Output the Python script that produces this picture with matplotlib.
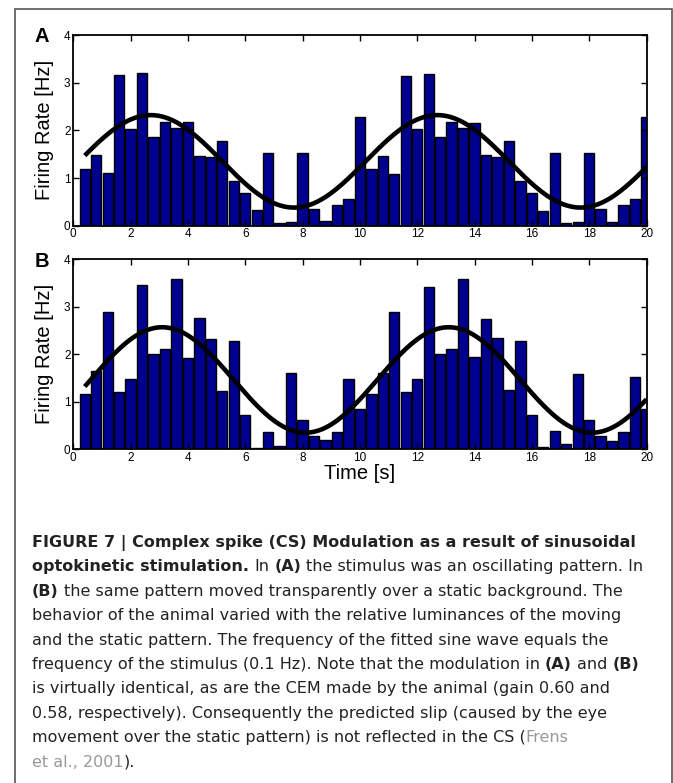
import numpy as np
import matplotlib
matplotlib.use("Agg")
import matplotlib.pyplot as plt
from matplotlib.patches import Rectangle

plt.rcParams['font.family'] = ['Liberation Sans', 'DejaVu Sans']

# bin centres (0.4 s bins) and firing rates
bins = np.arange(1, 51) * 0.4

rate_a = [1.19, 1.48, 1.11, 3.17, 2.03, 3.20, 1.87, 2.17, 2.05, 2.17,
          1.47, 1.45, 1.78, 0.93, 0.68, 0.32, 1.52, 0.05, 0.07, 1.53,
          0.36, 0.09, 0.43, 0.55, 2.27,
          1.19, 1.47, 1.09, 3.15, 2.03, 3.18, 1.87, 2.18, 2.04, 2.16,
          1.48, 1.45, 1.78, 0.93, 0.69, 0.30, 1.53, 0.06, 0.07, 1.53,
          0.36, 0.08, 0.43, 0.57, 2.27]

rate_b = [1.16, 1.64, 2.90, 1.21, 1.47, 3.45, 2.00, 2.12, 3.59, 1.93,
          2.77, 2.33, 1.23, 2.27, 0.72, 0.02, 0.37, 0.08, 1.60, 0.62,
          0.28, 0.19, 0.37, 1.47, 0.84,
          1.16, 1.60, 2.90, 1.21, 1.47, 3.42, 2.00, 2.12, 3.59, 1.94,
          2.75, 2.34, 1.24, 2.29, 0.72, 0.04, 0.39, 0.12, 1.59, 0.62,
          0.29, 0.18, 0.36, 1.52, 0.85]

# fitted sine (0.1 Hz): mean, amplitude, phase shift [s]
fit_a = (1.35, 0.97, 0.2)
fit_b = (1.46, 1.11, 0.6)
period = 10.0

W, H = 673, 783
fig = plt.figure(figsize=(W / 100, H / 100), dpi=100)

# outer frame
fig.patches.append(Rectangle((15 / W, -0.01), 657 / W, 1 - 9 / H + 0.01,
                             transform=fig.transFigure, fill=False,
                             edgecolor='#555555', linewidth=1.2))

tfit = np.linspace(0.4, 20, 300)


def panel(rect, rate, fit, letter, xlabel=None):
    ax = fig.add_axes(rect)
    ax.bar(bins, rate, width=0.36, color='#000090', edgecolor='black',
           linewidth=1.0, clip_on=True)
    m, a, p = fit
    ax.plot(tfit, m + a * np.sin(2 * np.pi * (tfit - p) / period),
            color='black', linewidth=3.3, solid_capstyle='butt')
    ax.set_xlim(0, 20)
    ax.set_ylim(0, 4)
    ax.set_xticks(range(0, 21, 2))
    ax.set_yticks(range(0, 5))
    ax.tick_params(direction='in', top=True, right=True, length=4,
                   width=1.0, labelsize=8.5, pad=2)
    for s in ax.spines.values():
        s.set_linewidth(1.3)
    ax.set_ylabel('Firing Rate [Hz]', fontsize=14.5, labelpad=7)
    if xlabel:
        ax.set_xlabel(xlabel, fontsize=14.5, labelpad=0)
    fig.text(42 / W, rect[1] + rect[3] - 2 / H, letter, fontsize=14.5,
             fontweight='bold', ha='center', va='center')
    return ax


panel([73.3 / W, 1 - 225.7 / H, 573.2 / W, 190.7 / H], rate_a, fit_a, 'A')
panel([73.3 / W, 1 - 449.3 / H, 573.2 / W, 190 / H], rate_b, fit_b, 'B',
      xlabel='Time [s]')

# caption, drawn run by run so bold and grey parts sit inline
N, Bd, G = 'normal', 'bold', 'grey'
caption = [
    [("FIGURE 7 | Complex spike (CS) Modulation as a result of sinusoidal", Bd)],
    [("optokinetic stimulation.", Bd), (" In ", N), ("(A)", Bd),
     (" the stimulus was an oscillating pattern. In", N)],
    [("(B)", Bd), (" the same pattern moved transparently over a static background. The", N)],
    [("behavior of the animal varied with the relative luminances of the moving", N)],
    [("and the static pattern. The frequency of the fitted sine wave equals the", N)],
    [("frequency of the stimulus (0.1 Hz). Note that the modulation in ", N),
     ("(A)", Bd), (" and ", N), ("(B)", Bd)],
    [("is virtually identical, as are the CEM made by the animal (gain 0.60 and", N)],
    [("0.58, respectively). Consequently the predicted slip (caused by the eye", N)],
    [("movement over the static pattern) is not reflected in the CS (", N), ("Frens", G)],
    [("et al., 2001", G), (").", N)],
]

cap_font = ['DejaVu Sans']
cap_size = 11.5
renderer = fig.canvas.get_renderer()


def width_of(s, weight):
    t = fig.text(0, 0, s, fontsize=cap_size, family=cap_font, fontweight=weight)
    w = t.get_window_extent(renderer).width
    t.remove()
    return w


space = width_of('a a', 'normal') - width_of('aa', 'normal')
y0 = 547
for i, line in enumerate(caption):
    x = 32
    y = 1 - (y0 + i * 24.4) / H
    for s, style in line:
        if s.startswith(' '):
            x += space
        txt = s.strip()
        t = fig.text(x / W, y, txt, fontsize=cap_size, family=cap_font,
                     fontweight='bold' if style == Bd else 'normal',
                     color='#999999' if style == G else '#222222',
                     va='baseline', ha='left')
        x += t.get_window_extent(renderer).width
        if s.endswith(' '):
            x += space

fig.savefig('out.png', dpi=100)
